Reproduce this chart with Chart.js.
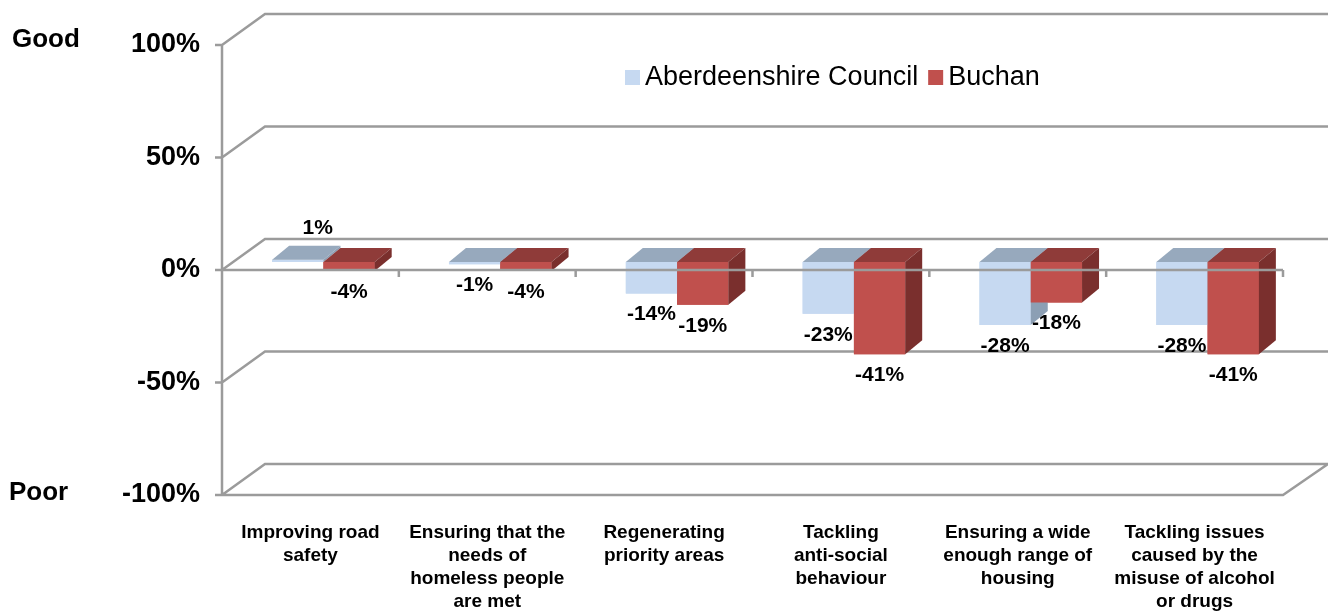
<!DOCTYPE html>
<html lang="en">
<head>
<meta charset="UTF-8">
<title>Aberdeenshire Council vs Buchan</title>
<script src="https://cdn.jsdelivr.net/npm/chart.js"></script>
<style>
  body { margin: 0; background: #fff; }
</style>
</head>
<body>
<canvas id="chart" width="1328" height="616"></canvas>
<script>
// data
const categories = [
  ["Improving road", "safety"],
  ["Ensuring that the", "needs of", "homeless people", "are met"],
  ["Regenerating", "priority areas"],
  ["Tackling", "anti-social", "behaviour"],
  ["Ensuring a wide", "enough range of", "housing"],
  ["Tackling issues", "caused by the", "misuse of alcohol", "or drugs"]
];
const aberdeenshire = [1, -1, -14, -23, -28, -28];
const buchan = [-4, -4, -19, -41, -18, -41];
const seriesNames = ["Aberdeenshire Council", "Buchan"];
const yTicks = [100, 50, 0, -50, -100];

const FONT = "Arial, 'Liberation Sans', sans-serif";
const LINE = "#9b9b9b";
const faces = [
  { front: "#c6d9f1", top: "#97a9bd", side: "#8c9fb4" },
  { front: "#c0504d", top: "#8f3b39", side: "#7a2f2d" }
];
const DEPTH = { x: 17, y: -14 };   // bar depth
const WALL = { x: 43, y: -31 };    // back wall offset
const SHIFT = { x: 13, y: -8 };    // bars sit half way back

const frame3d = {
  id: "frame3d",
  beforeDatasetsDraw(chart) {
    const { ctx, chartArea: a, scales: { y } } = chart;
    ctx.save();
    ctx.strokeStyle = LINE;
    ctx.lineWidth = 2.5;
    ctx.beginPath();
    yTicks.forEach(v => {
      const py = y.getPixelForValue(v);
      ctx.moveTo(a.left, py);
      ctx.lineTo(a.left + WALL.x, py + WALL.y);
      ctx.lineTo(chart.width, py + WALL.y);
      // small tick left of axis
      ctx.moveTo(a.left - 7, py);
      ctx.lineTo(a.left, py);
    });
    // front axis and floor
    ctx.moveTo(a.left, a.top);
    ctx.lineTo(a.left, a.bottom);
    ctx.lineTo(a.right, a.bottom);
    ctx.lineTo(a.right + WALL.x + 2, a.bottom + WALL.y);
    ctx.stroke();
    ctx.restore();

    ctx.save();
    ctx.translate(SHIFT.x, SHIFT.y);
  },
  afterDatasetsDraw(chart) {
    const { ctx } = chart;
    const metas = [chart.getDatasetMeta(0), chart.getDatasetMeta(1)];
    categories.forEach((c, i) => {
      metas.forEach((meta, d) => {
        const b = meta.data[i].getProps(["x", "y", "base", "width"], true);
        const l = b.x - b.width / 2, r = b.x + b.width / 2;
        const t = Math.min(b.y, b.base), btm = Math.max(b.y, b.base);
        const f = faces[d];
        ctx.fillStyle = f.front;
        ctx.fillRect(l, t, r - l, btm - t);
        ctx.fillStyle = f.top;
        ctx.beginPath();
        ctx.moveTo(l, t); ctx.lineTo(l + DEPTH.x, t + DEPTH.y);
        ctx.lineTo(r + DEPTH.x, t + DEPTH.y); ctx.lineTo(r, t);
        ctx.closePath(); ctx.fill();
        ctx.fillStyle = f.side;
        ctx.beginPath();
        ctx.moveTo(r, t); ctx.lineTo(r + DEPTH.x, t + DEPTH.y);
        ctx.lineTo(r + DEPTH.x, btm + DEPTH.y); ctx.lineTo(r, btm);
        ctx.closePath(); ctx.fill();
      });
    });
    // value labels
    ctx.fillStyle = "#000";
    ctx.font = "bold 21px " + FONT;
    ctx.textAlign = "center";
    ctx.textBaseline = "middle";
    metas.forEach(meta => {
      const vals = chart.data.datasets[meta.index].data;
      meta.data.forEach((bar, i) => {
        const b = bar.getProps(["x", "y", "base"], true);
        const v = vals[i];
        if (v > 0) ctx.fillText(v + "%", b.x + 20, Math.min(b.y, b.base) - 32);
        else ctx.fillText(v + "%", b.x, Math.max(b.y, b.base) + 21);
      });
    });
    ctx.restore();

    // front zero line with category ticks
    const { chartArea: a, scales: { y } } = chart;
    const y0 = y.getPixelForValue(0);
    ctx.save();
    ctx.strokeStyle = LINE;
    ctx.lineWidth = 2.5;
    ctx.beginPath();
    ctx.moveTo(a.left, y0);
    ctx.lineTo(a.right, y0);
    const step = (a.right - a.left) / categories.length;
    for (let k = 1; k <= categories.length; k++) {
      ctx.moveTo(a.left + k * step, y0);
      ctx.lineTo(a.left + k * step, y0 + 7);
    }
    ctx.stroke();
    ctx.restore();
  },
  afterDraw(chart) {
    const { ctx, scales: { y } } = chart;
    ctx.save();
    ctx.fillStyle = "#000";
    ctx.textBaseline = "middle";
    ctx.textAlign = "left";
    ctx.font = "bold 26px " + FONT;
    ctx.fillText("Good", 12, y.getPixelForValue(100) - 5);
    ctx.fillText("Poor", 9, y.getPixelForValue(-100) - 2);

    // legend
    ctx.font = "27px " + FONT;
    let lx = 625;
    seriesNames.forEach((name, d) => {
      ctx.fillStyle = faces[d].front;
      ctx.fillRect(lx, 70, 15, 15);
      lx += 20;
      ctx.fillStyle = "#000";
      ctx.fillText(name, lx, 78);
      lx += ctx.measureText(name).width + 10;
    });
    ctx.restore();
  }
};

new Chart(document.getElementById("chart"), {
  type: "bar",
  data: {
    labels: categories,
    datasets: [
      { label: seriesNames[0], data: aberdeenshire, backgroundColor: faces[0].front,
        categoryPercentage: 0.58, barPercentage: 1 },
      { label: seriesNames[1], data: buchan, backgroundColor: faces[1].front,
        categoryPercentage: 0.58, barPercentage: 1 }
    ]
  },
  options: {
    responsive: false,
    animation: false,
    layout: { padding: { top: 45, right: 45, left: 0, bottom: 0 } },
    plugins: { legend: { display: false }, tooltip: { enabled: false } },
    scales: {
      x: {
        grid: { display: false, drawTicks: false },
        border: { display: false },
        ticks: {
          color: "#000", padding: 26, maxRotation: 0, autoSkip: false,
          font: { family: FONT, size: 19, weight: "bold", lineHeight: 23 / 19 }
        },
        afterFit(s) { s.height = 121; }
      },
      y: {
        min: -100, max: 100,
        grid: { display: false, drawTicks: false },
        border: { display: false },
        ticks: {
          stepSize: 50, color: "#000", padding: 22,
          font: { family: FONT, size: 27, weight: "bold" },
          callback: v => v + "%"
        },
        afterFit(s) { s.width = 222; }
      }
    }
  },
  plugins: [frame3d]
});
</script>
</body>
</html>
